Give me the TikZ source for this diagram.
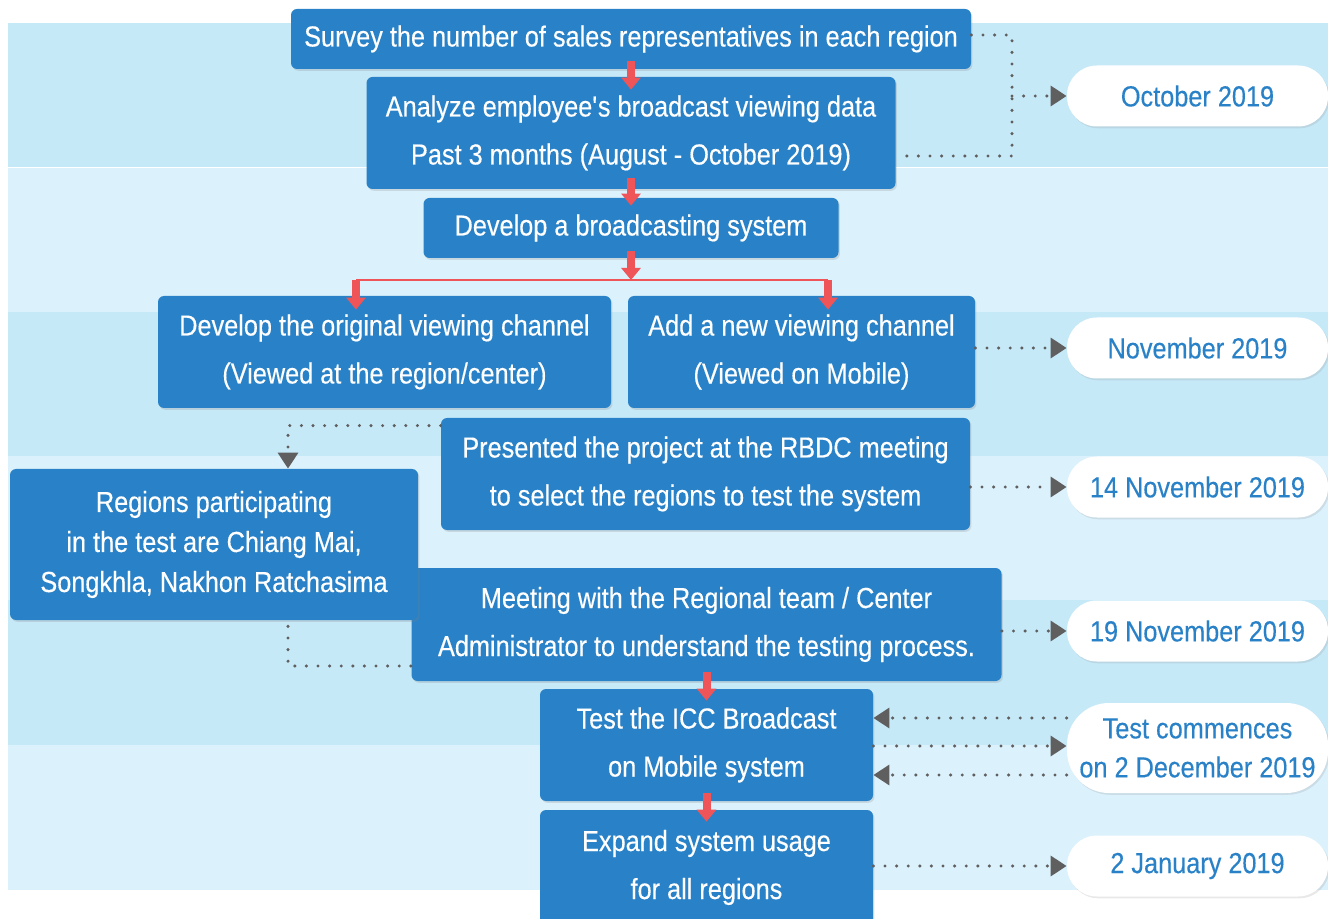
\documentclass[tikz,border=0pt]{standalone}
\usepackage{fontspec}
\setmainfont[FakeStretch=0.872,FakeBold=0.3]{Liberation Sans}
\usetikzlibrary{positioning,arrows.meta}
\usetikzlibrary{shadows}

\definecolor{boxblue}{RGB}{41,130,199}
\definecolor{bandA}{RGB}{198,233,248}
\definecolor{bandB}{RGB}{219,241,252}
\definecolor{arrowred}{RGB}{239,85,88}
\definecolor{dotgray}{RGB}{95,95,95}

\tikzset{
  stepbox/.style={fill=boxblue,text=white,rounded corners=3pt,align=center,
    inner sep=0pt,font=\fontsize{14.5}{24}\selectfont,
    drop shadow={shadow xshift=0.7pt,shadow yshift=-0.9pt,opacity=0.22}},
  datepill/.style={fill=white,text=boxblue,rounded corners=15pt,align=center,
    minimum width=130.5pt,minimum height=30.5pt,inner sep=0pt,
    font=\fontsize{14.5}{19.5}\selectfont,
    drop shadow={shadow xshift=0.7pt,shadow yshift=-0.9pt,opacity=0.18}},
  redarrow/.style={draw=arrowred,line width=4pt,-{Triangle[length=6pt,width=9.5pt]}},
  redline/.style={draw=arrowred,line width=1.3pt},
  dotline/.style={draw=dotgray,line width=1.7pt,line cap=round,dash pattern=on 0pt off 5.8pt},
  dotarrow/.style={dotline,-{Triangle[length=8pt,width=10pt]}},
}

\begin{document}
\begin{tikzpicture}[x=0.5pt,y=-0.5pt]
  \useasboundingbox (0,0) rectangle (1328,919);

  % stripes behind the flow
  \foreach \top/\col in {23/bandA,168/bandB,312/bandA,456/bandB,600/bandA,745/bandB}
    \fill[\col] (8,\top) rectangle (1330,\top+144.5);

  % main steps
  \node[stepbox,minimum width=340pt,minimum height=30pt] (survey) at (631,39)
    {Survey the number of sales representatives in each region};
  \node[stepbox,minimum width=264.5pt,minimum height=56pt] (analyze) at (631,133)
    {Analyze employee\textquotesingle s broadcast viewing data\\Past 3 months (August - October 2019)};
  \node[stepbox,minimum width=207.5pt,minimum height=30pt] (develop) at (631,228)
    {Develop a broadcasting system};
  \node[stepbox,minimum width=226.5pt,minimum height=56pt] (orig) at (384.5,352)
    {Develop the original viewing channel\\(Viewed at the region/center)};
  \node[stepbox,minimum width=173.5pt,minimum height=56pt] (mobile) at (801.5,352)
    {Add a new viewing channel\\(Viewed on Mobile)};
  \node[stepbox,minimum width=264.5pt,minimum height=56pt] (present) at (705.5,474)
    {Presented the project at the RBDC meeting\\to select the regions to test the system};
  \node[stepbox,minimum width=295pt,minimum height=56.5pt] (meeting) at (706.5,624.5)
    {Meeting with the Regional team / Center\\Administrator to understand the testing process.};
  \node[stepbox,minimum width=204pt,minimum height=75.5pt,
        font=\fontsize{14.5}{20}\selectfont] (regions) at (214,544.5)
    {Regions participating\\in the test are Chiang Mai,\\Songkhla, Nakhon Ratchasima};
  \node[stepbox,minimum width=166.5pt,minimum height=56pt] (test) at (706.5,745)
    {Test the ICC Broadcast\\on Mobile system};
  \node[stepbox,minimum width=166.5pt,minimum height=57.5pt] (expand) at (706.5,867.5)
    {Expand system usage\\for all regions};

  % dates
  \node[datepill] (oct) at (1197.5,96) {October 2019};
  \node[datepill] (nov) at (1197.5,348) {November 2019};
  \node[datepill] (nov14) at (1197.5,487) {14 November 2019};
  \node[datepill] (nov19) at (1197.5,631) {19 November 2019};
  \node[datepill,minimum height=45pt,rounded corners=21pt] (dec) at (1197.5,748)
    {Test commences\\on 2 December 2019};
  \node[datepill] (jan) at (1197.5,866) {2 January 2019};

  % red flow arrows
  \draw[redarrow] ([yshift=4pt]survey.south) -- ([yshift=-6.5pt]analyze.north);
  \draw[redarrow] ([yshift=5.5pt]analyze.south) -- ([yshift=-4pt]develop.north);
  \coordinate (split) at (631,280);
  \coordinate (forkL) at (356,280);
  \coordinate (forkR) at (828,280);
  \draw[redarrow] ([yshift=3.5pt]develop.south) -- (split);
  \draw[redline] (forkL) -- (forkR);
  \draw[redarrow,shorten >=-7pt] (forkL) -- (forkL |- orig.north);
  \draw[redarrow,shorten >=-7pt] (forkR) -- (forkR |- mobile.north);
  \draw[redarrow] ([yshift=4.5pt]meeting.south) -- ([yshift=-6pt]test.north);
  \draw[redarrow] ([yshift=4pt]test.south) -- ([yshift=-6pt]expand.north);

  % dotted links to the dates
  \coordinate (bus) at (1012,96);
  \draw[dotline] ([yshift=2pt]survey.east) -| (bus) |- ([yshift=-11.5pt]analyze.east);
  \draw[dotarrow] (bus) -- (oct);
  \draw[dotarrow] (mobile.east |- nov) -- (nov);
  \draw[dotarrow] (present.east |- nov14) -- (nov14);
  \draw[dotarrow] (meeting.east |- nov19) -- (nov19);
  \draw[dotarrow] (dec.west |- 0,718) -- (test.east |- 0,718);
  \draw[dotarrow] (test.east |- 0,746) -- (dec.west |- 0,746);
  \draw[dotarrow] (dec.west |- 0,775) -- (test.east |- 0,775);
  \draw[dotarrow] (expand.east |- jan) -- (jan);

  % regions chosen at the meeting
  \draw[dotarrow] ([yshift=-4pt]present.north west) -| ([xshift=37pt]regions.north);
  \draw[dotline] ([xshift=37pt,yshift=-3pt]regions.south) |- ([yshift=-20.75pt]meeting.west);
\end{tikzpicture}
\end{document}
